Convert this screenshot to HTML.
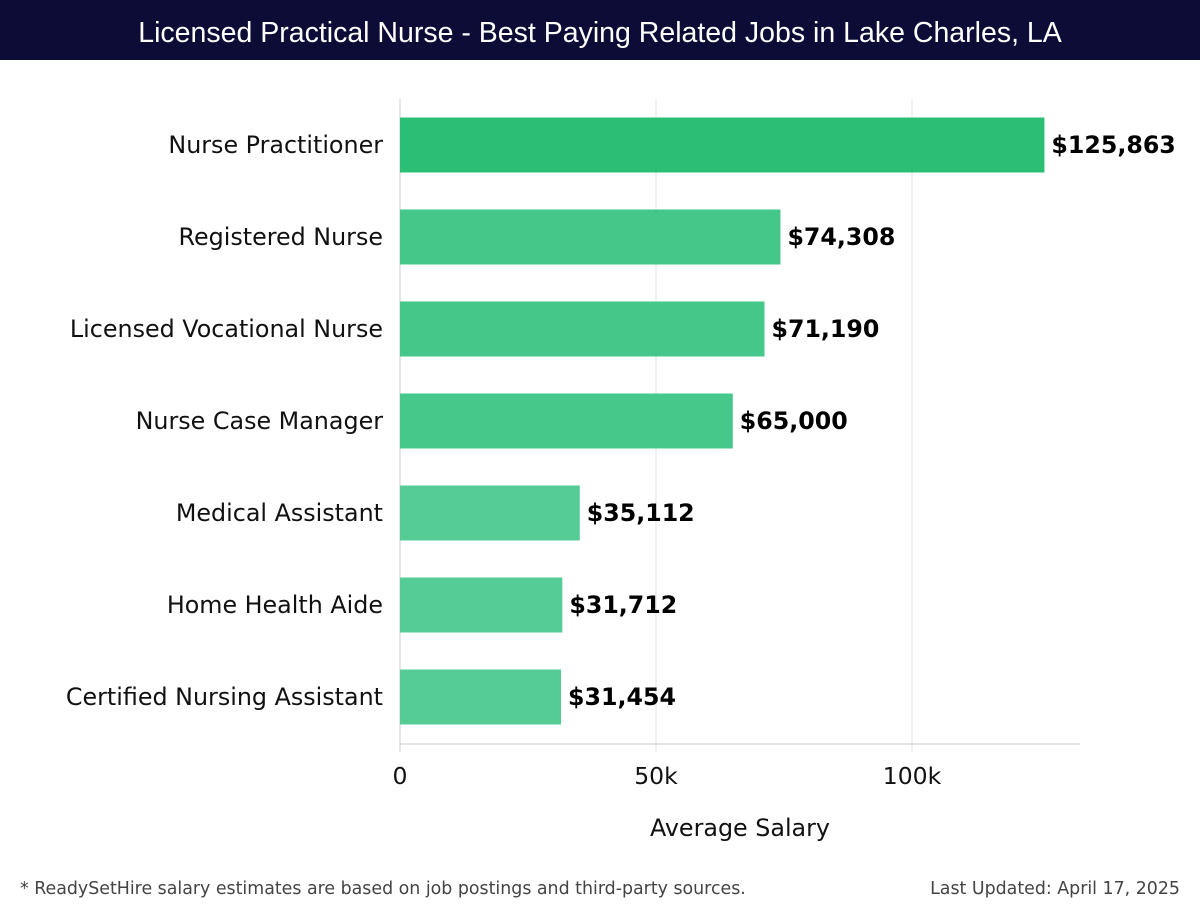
<!DOCTYPE html>
<html><head><meta charset="utf-8"><style>
body{margin:0;width:1200px;height:920px;background:#fff;font-family:"Liberation Sans",sans-serif;overflow:hidden}
#title{position:absolute;left:0;top:0;width:1200px;height:60px;background:#0c0c36;color:#fff;font-size:28.5px;text-align:center;line-height:66px}
.foot{position:absolute;top:879px;font-size:17.4px;color:#444;font-family:"DejaVu Sans",sans-serif}
svg text{font-family:"DejaVu Sans",sans-serif}
</style></head><body>
<div id="title">Licensed Practical Nurse - Best Paying Related Jobs in Lake Charles, LA</div>
<svg id="chart" width="1200" height="920" style="position:absolute;left:0;top:0"></svg>
<div class="foot" style="left:20px">* ReadySetHire salary estimates are based on job postings and third-party sources.</div>
<div class="foot" style="right:20px">Last Updated: April 17, 2025</div>
<script>
const categories=["Nurse Practitioner","Registered Nurse","Licensed Vocational Nurse","Nurse Case Manager","Medical Assistant","Home Health Aide","Certified Nursing Assistant"];
const values=[125863,74308,71190,65000,35112,31712,31454];
const tickValues=[0,50000,100000];
const tickLabels=["0","50k","100k"];
const colors=["#2bbf76","#45c78a","#45c78a","#47c88b","#55cc96","#55cc96","#55cc96"];
const svg=document.getElementById('chart');
const NS="http://www.w3.org/2000/svg";
const x0=400,pxPer=256/50000,top0=99,band=92,barH=55;
const xs=v=>x0+v*pxPer;
function mk(t,a){const e=document.createElementNS(NS,t);for(const k in a)e.setAttribute(k,a[k]);svg.appendChild(e);return e;}
tickValues.forEach((v,i)=>{
 const g=mk('line',{x1:xs(v),x2:xs(v),y1:top0,y2:752,stroke:i==0?'#ccc':'#e3e3e3','stroke-width':1});
 
 
 const t=mk('text',{x:xs(v),y:784,'font-size':23.5,'text-anchor':'middle',fill:'#111'});
 t.textContent=tickLabels[i];
 
 
});
const ax=mk('line',{x1:400,x2:1080,y1:744,y2:744,stroke:'#ccc'});


categories.forEach((c,i)=>{
 const cy=top0+band*i+band/2;
 const r=mk('rect',{x:x0,y:cy-barH/2,width:xs(values[i])-x0,height:barH,fill:colors[i]});
 
 
 const l=mk('text',{x:383,y:cy+8,'font-size':23.8,'text-anchor':'end',fill:'#111'});
 l.textContent=c;
 
 
 const v=mk('text',{x:xs(values[i])+7,y:cy+8,'font-size':23.7,'font-weight':'bold',fill:'#000'});
 v.textContent='$'+values[i].toLocaleString('en-US');
 
 
});
const xt=mk('text',{x:740,y:836,'font-size':23.8,'text-anchor':'middle',fill:'#111'});
xt.textContent='Average Salary';


</script>
</body></html>
